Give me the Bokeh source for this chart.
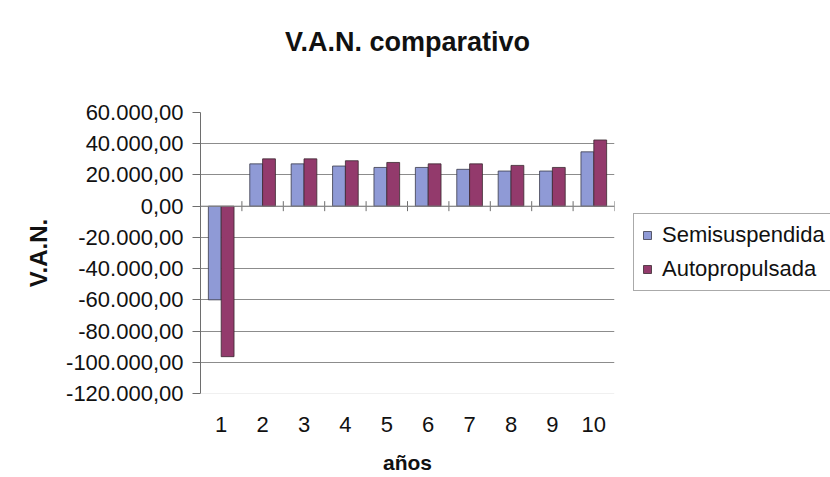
from bokeh.plotting import figure
from bokeh.models import (ColumnDataSource, FixedTicker, Legend, LegendItem,
                          Span, Range1d, LinearAxis)
from bokeh.transform import dodge
from bokeh.embed import file_html
from bokeh.resources import INLINE

# ---- data ----
anios = [1, 2, 3, 4, 5, 6, 7, 8, 9, 10]
anio_labels = ["1", "2", "3", "4", "5", "6", "7", "8", "9", "10"]
semisuspendida = [-60000, 27100, 27100, 25700, 24800, 24800, 23600, 22500, 22500, 34800]
autopropulsada = [-96400, 30300, 30300, 29100, 28000, 27100, 27100, 26100, 24800, 42400]
y_ticks = [-120000, -100000, -80000, -60000, -40000, -20000, 0, 20000, 40000, 60000]
y_tick_labels = ["-120.000,00", "-100.000,00", "-80.000,00", "-60.000,00", "-40.000,00",
                 "-20.000,00", "0,00", "20.000,00", "40.000,00", "60.000,00"]
series_names = ["Semisuspendida", "Autopropulsada"]
title_text = "V.A.N. comparativo"
y_label = "V.A.N."
x_label = "años"

FONT = "Liberation Sans"
BLUE = "#8f9ad6"
PURPLE = "#933a6c"
GRID = "#8c8c8c"

src = ColumnDataSource(dict(anio=anios, semis=semisuspendida, auto=autopropulsada))

p = figure(width=830, height=477, frame_width=414, frame_height=281,
           output_backend="svg", toolbar_location=None,
           x_range=Range1d(anios[0] - 0.5, anios[-1] + 0.5),
           y_range=Range1d(y_ticks[0], y_ticks[-1]),
           min_border_left=200, min_border_right=216, min_border_top=112,
           min_border_bottom=84)
p.outline_line_color = None
p.background_fill_color = "white"
p.border_fill_color = "white"
p.title.visible = False

# references to the default axes (before adding the title axis)
xax = p.below[0]
yax = p.left[0]

# title drawn as the label of an empty axis above the frame
title_axis = LinearAxis(ticker=FixedTicker(ticks=[]), bounds=(1.22, anios[-1] + 0.5),
                        axis_line_color=None, major_tick_line_color=None,
                        minor_tick_line_color=None, major_label_text_font_size="0px",
                        axis_label=title_text, axis_label_text_font=FONT,
                        axis_label_text_font_size="27px", axis_label_text_font_style="bold",
                        axis_label_text_color="#111111", axis_label_standoff=56)
p.add_layout(title_axis, "above")

# grid lines
p.xgrid.visible = False
p.ygrid.ticker = FixedTicker(ticks=y_ticks[1:-1])
p.ygrid.grid_line_color = GRID
p.ygrid.grid_line_width = 1
p.add_layout(Span(location=y_ticks[0], dimension="width", line_color="#e2e2e2", line_width=1))

bw = 0.31
r1 = p.vbar(x=dodge("anio", -bw / 2), top="semis", width=bw, source=src,
            fill_color=BLUE, line_color="#3a3a4a", line_width=0.8)
r2 = p.vbar(x=dodge("anio", bw / 2), top="auto", width=bw, source=src,
            fill_color=PURPLE, line_color="#3a2a30", line_width=0.8)

# category axis line at zero with tick marks at category boundaries
p.add_layout(Span(location=0, dimension="width", line_color=GRID, line_width=1))
bounds = [a - 0.5 for a in anios] + [anios[-1] + 0.5]
p.segment(x0=bounds, x1=bounds, y0=[-3200] * len(bounds), y1=[3200] * len(bounds),
          line_color="#6e6e6e", line_width=1)

# y axis
yax.ticker = FixedTicker(ticks=y_ticks)
yax.major_label_overrides = {t: l for t, l in zip(y_ticks, y_tick_labels)}
yax.minor_tick_line_color = None
yax.major_tick_in = 0
yax.major_tick_out = 8
yax.major_tick_line_color = "#6e6e6e"
yax.axis_line_color = "#6e6e6e"
yax.major_label_text_font = FONT
yax.major_label_text_font_size = "22px"
yax.major_label_text_color = "#111111"
yax.major_label_standoff = 9
yax.axis_label = y_label
yax.axis_label_text_font = FONT
yax.axis_label_text_font_size = "24px"
yax.axis_label_text_font_style = "bold"
yax.axis_label_text_color = "#111111"
yax.axis_label_standoff = 11

# x axis (labels only)
xax.ticker = FixedTicker(ticks=anios)
xax.major_label_overrides = {a: l for a, l in zip(anios, anio_labels)}
xax.axis_line_color = None
xax.major_tick_line_color = None
xax.minor_tick_line_color = None
xax.major_tick_out = 0
xax.major_tick_in = 0
xax.major_label_text_font = FONT
xax.major_label_text_font_size = "22px"
xax.major_label_text_color = "#111111"
xax.major_label_standoff = 23
xax.axis_label = x_label
xax.axis_label_text_font = FONT
xax.axis_label_text_font_size = "21px"
xax.axis_label_text_font_style = "bold"
xax.axis_label_text_color = "#111111"
xax.axis_label_standoff = 16

legend = Legend(items=[LegendItem(label=series_names[0], renderers=[r1]),
                       LegendItem(label=series_names[1], renderers=[r2])],
                location=(19, 102), orientation="vertical",
                label_text_font=FONT, label_text_font_size="22px",
                label_text_color="#111111",
                glyph_width=10, glyph_height=10, label_height=26, label_standoff=10,
                padding=8, spacing=8, margin=0,
                border_line_color="#555555", border_line_width=1,
                background_fill_alpha=1.0)
p.add_layout(legend, "right")

open("out.html", "w").write(file_html(p, INLINE))
